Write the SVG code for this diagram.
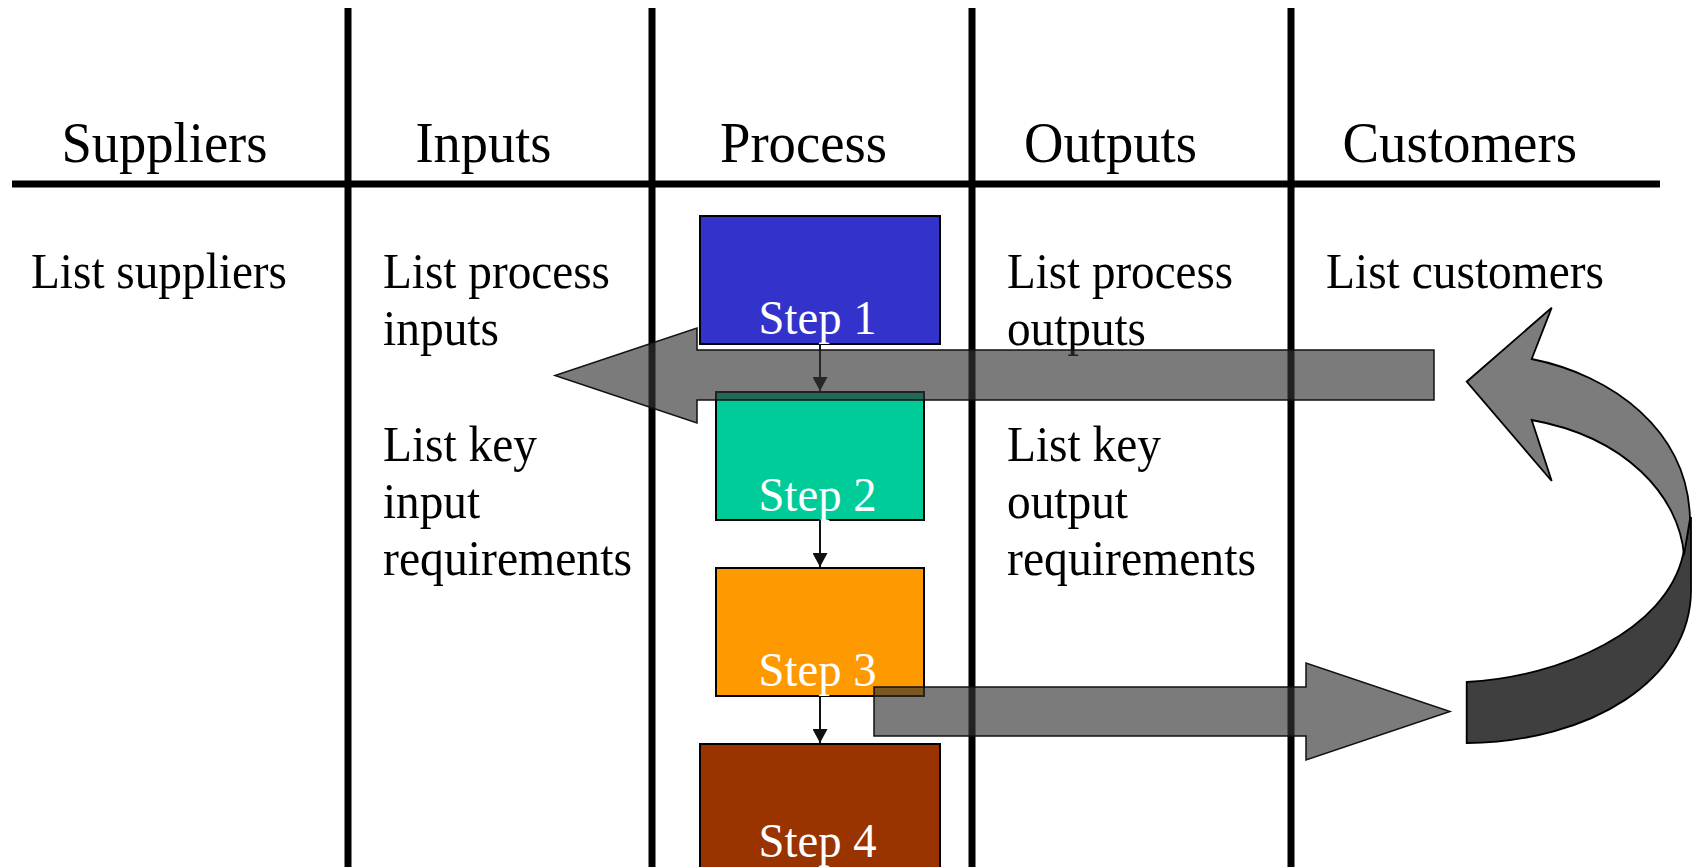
<svg xmlns="http://www.w3.org/2000/svg" width="1692" height="867" viewBox="0 0 1692 867">
  <style>
    .rule { stroke: #000; stroke-width: 7; fill: none; }
    .head { font-family: "Liberation Serif", "Times New Roman", serif; font-size: 57px; fill: #000; }
    .body { font-family: "Liberation Serif", "Times New Roman", serif; font-size: 50px; fill: #000; }
    .step rect { stroke: #000; stroke-width: 2; }
    .step text { font-family: "Liberation Serif", "Times New Roman", serif; font-size: 49px; fill: #fff; }
    .link { stroke: #111; stroke-width: 2; fill: none; marker-end: url(#tip); }
    .flow { fill: rgb(52,52,52); fill-opacity: 0.65; stroke: #111; stroke-width: 1.5; stroke-linejoin: miter; }
    .loop { stroke: #000; stroke-width: 1.8; stroke-linejoin: miter; }
  </style>
  <defs>
    <marker id="tip" markerUnits="userSpaceOnUse" markerWidth="14" markerHeight="15" viewBox="0 0 14 15" refX="14" refY="7.5" orient="auto">
      <path d="M0,0 L14,7.5 L0,15 Z" fill="#111"/>
    </marker>
  </defs>

  <rect width="1692" height="867" fill="#fff"/>

  <!-- table rules -->
  <g id="grid">
    <line class="rule" x1="12" y1="184" x2="1660" y2="184"/>
    <line class="rule" x1="348" y1="8" x2="348" y2="867"/>
    <line class="rule" x1="652" y1="8" x2="652" y2="867"/>
    <line class="rule" x1="972" y1="8" x2="972" y2="867"/>
    <line class="rule" x1="1291" y1="8" x2="1291" y2="867"/>
  </g>

  <!-- column headings -->
  <g id="headings">
    <text class="head" x="61.5" y="162" textLength="206" lengthAdjust="spacingAndGlyphs">Suppliers</text>
    <text class="head" x="415.5" y="162" textLength="136" lengthAdjust="spacingAndGlyphs">Inputs</text>
    <text class="head" x="720" y="162" textLength="167" lengthAdjust="spacingAndGlyphs">Process</text>
    <text class="head" x="1024" y="162" textLength="173" lengthAdjust="spacingAndGlyphs">Outputs</text>
    <text class="head" x="1342.5" y="162" textLength="234.5" lengthAdjust="spacingAndGlyphs">Customers</text>
  </g>

  <!-- column contents -->
  <g id="suppliers-col">
    <text class="body" x="31" y="288" textLength="256" lengthAdjust="spacingAndGlyphs">List suppliers</text>
  </g>
  <g id="inputs-col">
    <text class="body" x="383" y="288" textLength="227" lengthAdjust="spacingAndGlyphs">List process</text>
    <text class="body" x="383" y="345" textLength="116" lengthAdjust="spacingAndGlyphs">inputs</text>
    <text class="body" x="383" y="461" textLength="154" lengthAdjust="spacingAndGlyphs">List key</text>
    <text class="body" x="383" y="518" textLength="97" lengthAdjust="spacingAndGlyphs">input</text>
    <text class="body" x="383" y="575" textLength="249" lengthAdjust="spacingAndGlyphs">requirements</text>
  </g>
  <g id="outputs-col">
    <text class="body" x="1007" y="288" textLength="226" lengthAdjust="spacingAndGlyphs">List process</text>
    <text class="body" x="1007" y="345" textLength="139" lengthAdjust="spacingAndGlyphs">outputs</text>
    <text class="body" x="1007" y="461" textLength="154" lengthAdjust="spacingAndGlyphs">List key</text>
    <text class="body" x="1007" y="518" textLength="121" lengthAdjust="spacingAndGlyphs">output</text>
    <text class="body" x="1007" y="575" textLength="249" lengthAdjust="spacingAndGlyphs">requirements</text>
  </g>
  <g id="customers-col">
    <text class="body" x="1326" y="288" textLength="278" lengthAdjust="spacingAndGlyphs">List customers</text>
  </g>

  <!-- process steps -->
  <g id="step1" class="step">
    <rect x="700" y="216" width="240" height="128" fill="#3333CC"/>
    <text x="758.5" y="334" textLength="118" lengthAdjust="spacingAndGlyphs">Step 1</text>
  </g>
  <g id="step2" class="step">
    <rect x="716" y="392" width="208" height="128" fill="#00CC99"/>
    <text x="758.5" y="511" textLength="118" lengthAdjust="spacingAndGlyphs">Step 2</text>
  </g>
  <g id="step3" class="step">
    <rect x="716" y="568" width="208" height="128" fill="#FF9900"/>
    <text x="758.5" y="686" textLength="118" lengthAdjust="spacingAndGlyphs">Step 3</text>
  </g>
  <g id="step4" class="step">
    <rect x="700" y="744" width="240" height="140" fill="#993300"/>
    <text x="758.5" y="857" textLength="118" lengthAdjust="spacingAndGlyphs">Step 4</text>
  </g>

  <!-- step-to-step connectors -->
  <g id="connectors">
    <line class="link" x1="820" y1="344" x2="820" y2="391"/>
    <line class="link" x1="820" y1="520" x2="820" y2="567"/>
    <line class="link" x1="820" y1="696" x2="820" y2="743"/>
  </g>

  <!-- feedback and delivery block arrows -->
  <g id="flow-arrows">
    <polygon id="feedback-arrow" class="flow" points="1434,350 697,350 697,328 555,375.5 697,423 697,400 1434,400"/>
    <polygon id="delivery-arrow" class="flow" points="874,687 1306,687 1306,663 1450,711.5 1306,760 1306,736 874,736"/>
  </g>

  <!-- curved return arrow -->
  <g id="return-loop">
    <path class="loop" fill="#3F3F3F" d="M1466.7,682 C1562,677 1666,630 1683,555 L1691,517 L1691,590 C1691,680 1590,742 1466.7,743 Z"/>
    <path class="loop" fill="#7C7C7C" d="M1531.7,359 C1612,375 1688,430 1690,519 L1684,555 C1679,496 1626,437 1531.7,420 L1551.7,481 L1466.7,381.7 L1551.7,307.7 Z"/>
  </g>
</svg>
